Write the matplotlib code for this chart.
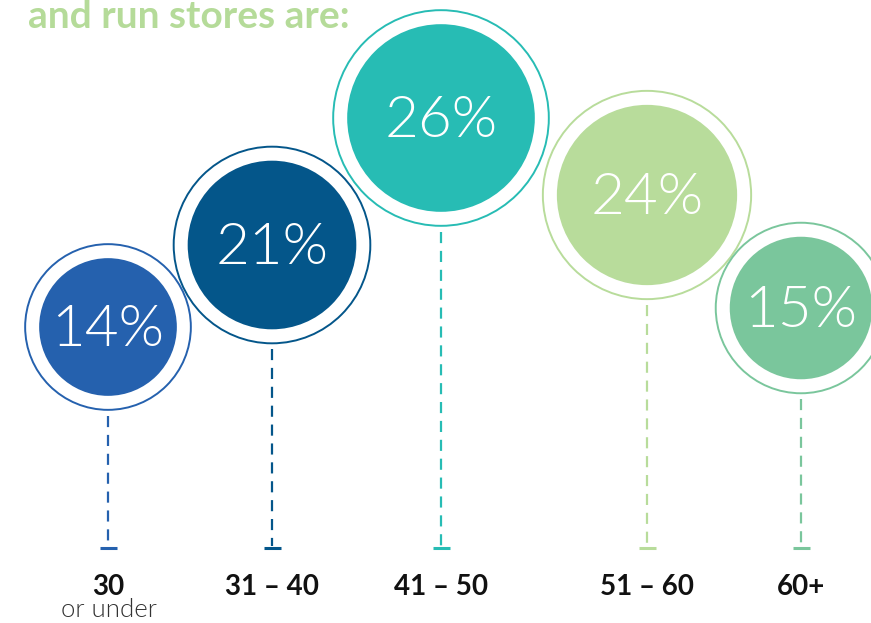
import numpy as np
import matplotlib.pyplot as plt
from matplotlib import font_manager
from matplotlib.patches import Circle

# ---------------* data *----------------------
groups = ["30", "31 – 40", "41 – 50", "51 – 60", "60+"]
shares = [14, 21, 26, 24, 15]
colors = ["#2561ae", "#04568a", "#27bcb4", "#b8dc9b", "#7ac69c"]

# ---------------* layout (pixels) *----------------------
cx = [108, 272, 441, 647, 801]
cy = [327, 245, 118, 195, 308]
stem_end = 548
label_y = 595

# light weight face for the big numbers
light_file = [f for f in font_manager.findSystemFonts()
              if f.lower().endswith("lato-light.ttf")]
if light_file:
    light = font_manager.FontProperties(fname=light_file[0])
else:
    light = font_manager.FontProperties(family="Lato", weight="normal")

W, H = 871, 623
fig = plt.figure(figsize=(W / 100, H / 100), dpi=100)
ax = fig.add_axes([0, 0, 1, 1])
ax.set_xlim(0, W)
ax.set_ylim(H, 0)
ax.set_aspect("equal")
ax.axis("off")

ax.text(28, 28, "and run stores are:", color="#b5db99", fontsize=28,
        fontweight="bold", family="Lato", va="baseline", ha="left")

for x, y, v, c, g in zip(cx, cy, shares, colors, groups):
    r_in = 18.4 * np.sqrt(v)
    r_out = r_in + 14
    ax.add_patch(Circle((x, y), r_in, color=c, lw=0, zorder=3))
    ax.add_patch(Circle((x, y), r_out, fill=False, ec=c, lw=1.4, zorder=3))
    ax.text(x, y + 19, f"{v}%", color="white", fontproperties=light,
            fontsize=42, ha="center", va="baseline", zorder=4)
    # dashed stem down to the base tick
    ax.plot([x, x], [y + r_out + 6, stem_end - 2], color=c, lw=1.6,
            ls=(0, (5, 3.5)), zorder=2)
    ax.plot([x - 8.5, x + 8.5], [stem_end, stem_end], color=c, lw=2.2,
            solid_capstyle="butt", zorder=2)
    ax.text(x, label_y, g, color="#111111", fontsize=20, fontweight="bold",
            family="Lato", ha="center", va="baseline")

ax.text(cx[0] + 1, 617, "or under", color="#333333", fontproperties=light,
        fontsize=18.5, ha="center", va="baseline")

fig.savefig("out.png", dpi=100)
